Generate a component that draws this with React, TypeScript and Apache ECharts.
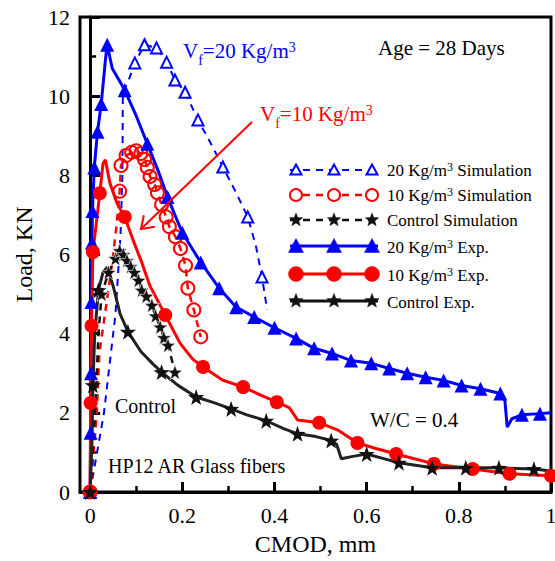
import React, { useEffect, useRef } from "react";
import * as echarts from "echarts";

const FONT = "'Liberation Serif','Times New Roman',Times,serif";

// [CMOD (mm), Load (kN), marker shown 1/0]
const sim20: number[][] = [
  [0, 0, 1], [0.03, 2.0, 0], [0.055, 4.5, 0], [0.066, 6.5, 0], [0.07, 8.0, 0], [0.071, 10.1, 0],
  [0.086, 10.48, 0], [0.097, 10.84, 1], [0.118, 11.3, 1], [0.144, 11.22, 1], [0.166, 10.86, 1],
  [0.184, 10.41, 1], [0.206, 10.1, 1], [0.234, 9.4, 1], [0.26, 8.85, 0], [0.288, 8.21, 1],
  [0.315, 7.6, 0], [0.342, 6.95, 1], [0.36, 6.2, 0], [0.373, 5.43, 1], [0.384, 4.6, 0],
];
const sim10: number[][] = [
  [0, 0, 1], [0.014, 1.9, 0], [0.02, 3.5, 0], [0.031, 4.4, 0], [0.042, 5.3, 0], [0.05, 6.0, 0],
  [0.058, 6.8, 0], [0.064, 7.6, 1], [0.067, 8.25, 1], [0.078, 8.5, 1], [0.09, 8.58, 1],
  [0.1, 8.62, 1], [0.11, 8.55, 1], [0.118, 8.4, 1], [0.124, 8.2, 1], [0.13, 7.97, 1],
  [0.14, 7.77, 1], [0.146, 7.56, 1], [0.155, 7.26, 1], [0.165, 6.95, 1], [0.172, 6.7, 1],
  [0.185, 6.45, 1], [0.196, 6.15, 1], [0.207, 5.72, 1], [0.212, 5.15, 1], [0.225, 4.6, 1],
  [0.24, 3.92, 1],
];
const simCtrl: number[][] = [
  [0, 0, 1], [0.008, 1.5, 0], [0.013, 2.6, 0], [0.018, 4.0, 0], [0.025, 5.0, 1], [0.04, 5.55, 1],
  [0.055, 5.9, 1], [0.064, 6.1, 1], [0.072, 6.0, 1], [0.08, 5.85, 1], [0.088, 5.7, 1],
  [0.096, 5.55, 1], [0.105, 5.35, 1], [0.112, 5.1, 1], [0.122, 4.95, 1], [0.134, 4.72, 1],
  [0.142, 4.45, 1], [0.152, 4.17, 1], [0.16, 3.9, 1], [0.169, 3.71, 1], [0.178, 3.3, 0],
  [0.184, 3.03, 1],
];
const exp20: number[][] = [
  [0, 0, 1], [0.001, 1.5, 1], [0.002, 3.0, 1], [0.003, 4.8, 1], [0.004, 6.3, 1], [0.005, 7.1, 1],
  [0.009, 8.2, 1], [0.016, 9.1, 1], [0.024, 9.8, 1], [0.033, 10.9, 0], [0.037, 11.3, 1],
  [0.048, 10.7, 0], [0.063, 10.4, 0], [0.075, 10.15, 1], [0.1, 9.5, 0], [0.124, 8.8, 1],
  [0.148, 8.1, 0], [0.168, 7.45, 1], [0.2, 6.55, 1], [0.24, 5.8, 1], [0.28, 5.15, 1],
  [0.317, 4.67, 1], [0.356, 4.42, 1], [0.4, 4.15, 1], [0.447, 3.88, 1], [0.486, 3.63, 1],
  [0.525, 3.5, 1], [0.566, 3.32, 1], [0.61, 3.25, 1], [0.649, 3.12, 1], [0.688, 3.0, 1],
  [0.728, 2.9, 1], [0.767, 2.82, 1], [0.806, 2.69, 1], [0.847, 2.61, 1], [0.89, 2.49, 1],
  [0.9, 2.3, 0], [0.905, 1.64, 0], [0.915, 1.85, 0], [0.937, 1.95, 1], [0.976, 1.98, 1],
  [1.0, 2.0, 0],
];
const exp10: number[][] = [
  [0, 0, 1], [0.001, 2.25, 1], [0.003, 4.2, 1], [0.006, 6.06, 1], [0.021, 7.55, 1],
  [0.028, 8.3, 0], [0.033, 8.39, 0], [0.043, 7.8, 0], [0.058, 7.3, 0], [0.075, 6.95, 1],
  [0.093, 6.37, 0], [0.112, 5.8, 0], [0.13, 5.2, 0], [0.163, 4.47, 1], [0.195, 3.76, 0],
  [0.223, 3.35, 0], [0.245, 3.16, 1], [0.287, 2.83, 0], [0.332, 2.65, 1], [0.37, 2.45, 0],
  [0.405, 2.27, 1], [0.432, 2.13, 0], [0.45, 1.82, 0], [0.497, 1.75, 1], [0.54, 1.55, 0],
  [0.58, 1.24, 1], [0.62, 1.1, 0], [0.664, 0.96, 1], [0.746, 0.71, 1], [0.83, 0.58, 1],
  [0.91, 0.46, 1], [1.0, 0.41, 1],
];
const expCtrl: number[][] = [
  [0, 0, 1], [0.004, 1.3, 0], [0.006, 2.7, 1], [0.01, 4.0, 0], [0.018, 5.1, 1], [0.028, 5.55, 0],
  [0.037, 5.68, 0], [0.05, 5.2, 0], [0.065, 4.5, 0], [0.082, 4.05, 1], [0.11, 3.55, 0],
  [0.135, 3.25, 0], [0.155, 3.03, 1], [0.19, 2.7, 0], [0.23, 2.4, 1], [0.27, 2.25, 0],
  [0.306, 2.1, 1], [0.34, 1.95, 0], [0.382, 1.8, 1], [0.42, 1.6, 0], [0.45, 1.47, 1],
  [0.49, 1.4, 0], [0.523, 1.3, 1], [0.535, 1.2, 0], [0.545, 0.84, 0], [0.57, 0.9, 0],
  [0.6, 0.96, 1], [0.635, 0.85, 0], [0.67, 0.74, 1], [0.742, 0.61, 1], [0.815, 0.61, 1],
  [0.887, 0.61, 1], [0.963, 0.58, 1], [1.0, 0.53, 0],
];

const xMajor = [0, 0.2, 0.4, 0.6, 0.8, 1];
const xMinor = [0.1, 0.3, 0.5, 0.7, 0.9];

const BLUE = "#0000ff";
const RED = "#ff0000";
const BLACK = "#111111";
const STAR =
  "path://M0,-10 L2.35,-3.24 L9.51,-3.09 L3.8,1.24 L5.88,8.09 L0,4 L-5.88,8.09 L-3.8,1.24 L-9.51,-3.09 L-2.35,-3.24 Z";

function pts(d: number[][]) {
  return d.map(([x, y, m]) => (m ? [x, y] : { value: [x, y], symbol: "none" }));
}

function starPts(cx: number, cy: number, R: number) {
  const r = R * 0.42;
  const out: number[][] = [];
  for (let i = 0; i < 10; i++) {
    const a = (-90 + i * 36) * (Math.PI / 180);
    const rr = i % 2 === 0 ? R : r;
    out.push([cx + rr * Math.cos(a), cy + rr * Math.sin(a)]);
  }
  return out;
}

function legendRow(y: number, kind: string, color: string, dashed: boolean, hollow: boolean, size: number, lw: number) {
  const xs = [296, 334, 372];
  const els: any[] = [
    {
      type: "line",
      z: 45,
      shape: { x1: 290, y1: y, x2: 378, y2: y },
      style: { stroke: color, lineWidth: lw, lineDash: dashed ? [7, 6] : null },
    },
  ];
  xs.forEach((cx) => {
    const st = hollow
      ? { fill: "#fff", stroke: color, lineWidth: 2 }
      : { fill: color, stroke: color, lineWidth: 0.5 };
    if (kind === "tri") {
      els.push({
        type: "polygon",
        z: 46,
        shape: { points: [[cx, y - size / 2], [cx + size / 2, y + size / 2 - 1], [cx - size / 2, y + size / 2 - 1]] },
        style: st,
      });
    } else if (kind === "circ") {
      els.push({ type: "circle", z: 46, shape: { cx, cy: y, r: size / 2 }, style: st });
    } else {
      els.push({ type: "polygon", z: 46, shape: { points: starPts(cx, y, size / 2) }, style: st });
    }
  });
  return els;
}

function txt(x: number, y: number, text: string, color: string, size: number, rich?: any) {
  return {
    type: "text",
    x,
    y,
    z: 50,
    style: {
      text,
      fill: color,
      font: `${size}px ${FONT}`,
      align: "left",
      verticalAlign: "middle",
      rich,
    },
  };
}

function supRich(color: string, size: number, subSize: number, supPad: number, subPad: number) {
  return {
    n: { fontSize: size, fontFamily: FONT, fill: color },
    sub: { fontSize: subSize, fontFamily: FONT, fill: color, padding: [subPad, 0, 0, 0] },
    sup: { fontSize: subSize, fontFamily: FONT, fill: color, padding: [0, 0, supPad, 0] },
  };
}

export default function App() {
  const ref = useRef<HTMLDivElement>(null);
  useEffect(() => {
    if (!ref.current) return;
    const chart = echarts.init(ref.current, undefined, { renderer: "svg" });
    const axisFont = { fontFamily: FONT, color: "#000" };

    const series: any[] = [
      {
        name: "20 Sim",
        type: "line",
        data: pts(sim20),
        symbol: "triangle",
        symbolSize: 11,
        showAllSymbol: true,
        lineStyle: { color: BLUE, width: 2, type: [7, 6] },
        itemStyle: { color: "#fff", borderColor: BLUE, borderWidth: 2 },
      },
      {
        name: "10 Sim",
        type: "line",
        data: pts(sim10),
        symbol: "circle",
        symbolSize: 13,
        showAllSymbol: true,
        lineStyle: { color: RED, width: 2.5, type: [7, 6] },
        itemStyle: { color: "rgba(255,255,255,0)", borderColor: RED, borderWidth: 2 },
      },
      {
        name: "Ctrl Sim",
        type: "line",
        data: pts(simCtrl),
        symbol: STAR,
        symbolSize: 15,
        showAllSymbol: true,
        lineStyle: { color: BLACK, width: 2.5, type: [7, 6] },
        itemStyle: { color: BLACK, borderColor: "#fff", borderWidth: 0.6 },
      },
      {
        name: "20 Exp",
        type: "line",
        data: pts(exp20),
        symbol: "triangle",
        symbolSize: 14,
        showAllSymbol: true,
        lineStyle: { color: BLUE, width: 3 },
        itemStyle: { color: BLUE },
      },
      {
        name: "10 Exp",
        type: "line",
        data: pts(exp10),
        symbol: "circle",
        symbolSize: 14,
        showAllSymbol: true,
        lineStyle: { color: RED, width: 3 },
        itemStyle: { color: RED },
      },
      {
        name: "Ctrl Exp",
        type: "line",
        data: pts(expCtrl),
        symbol: STAR,
        symbolSize: 16,
        showAllSymbol: true,
        lineStyle: { color: "#222", width: 3 },
        itemStyle: { color: BLACK },
      },
    ];

    // arrow geometry (annotation)
    const tip = [141, 229];
    const tail = [252, 122];
    const ang = Math.atan2(tail[1] - tip[1], tail[0] - tip[0]);
    const hl = 14;
    const h1 = [tip[0] + hl * Math.cos(ang + 0.6), tip[1] + hl * Math.sin(ang + 0.6)];
    const h2 = [tip[0] + hl * Math.cos(ang - 0.6), tip[1] + hl * Math.sin(ang - 0.6)];

    const graphic: any[] = [
      { type: "line", z: 40, shape: { x1: tail[0], y1: tail[1], x2: tip[0], y2: tip[1] }, style: { stroke: RED, lineWidth: 2 } },
      { type: "polyline", z: 40, shape: { points: [h1, tip, h2] }, style: { stroke: RED, lineWidth: 2, fill: null } },
      txt(183, 51, "{n|V}{sub|f}{n|=20 Kg/m}{sup|3}", BLUE, 21, supRich(BLUE, 21, 14, 8, 18)),
      txt(260, 114, "{n|V}{sub|f}{n|=10 Kg/m}{sup|3}", RED, 21, supRich(RED, 21, 14, 8, 18)),
      txt(378, 48, "Age = 28 Days", "#000", 21),
      txt(370, 420, "W/C = 0.4", "#000", 21),
      txt(115, 406, "Control", "#000", 20),
      txt(108, 466, "HP12 AR Glass fibers", "#000", 20),
      ...legendRow(170, "tri", BLUE, true, true, 11, 2),
      ...legendRow(195, "circ", RED, true, true, 12, 2.5),
      ...legendRow(220, "star", BLACK, true, false, 14, 2.5),
      ...legendRow(246, "tri", BLUE, false, false, 15, 3),
      ...legendRow(274, "circ", RED, false, false, 15, 3),
      ...legendRow(301, "star", BLACK, false, false, 15, 3),
      txt(387, 170, "{n|20 Kg/m}{sup|3}{n| Simulation}", "#000", 17, supRich("#000", 17, 12, 6, 0)),
      txt(387, 195, "{n|10 Kg/m}{sup|3}{n| Simulation}", "#000", 17, supRich("#000", 17, 12, 6, 0)),
      txt(387, 220, "Control Simulation", "#000", 17),
      txt(387, 247, "{n|20 Kg/m}{sup|3}{n| Exp.}", "#000", 17, supRich("#000", 17, 12, 6, 0)),
      txt(387, 275, "{n|10 Kg/m}{sup|3}{n| Exp.}", "#000", 17, supRich("#000", 17, 12, 6, 0)),
      txt(387, 302, "Control Exp.", "#000", 17),
    ];

    chart.setOption({
      animation: false,
      backgroundColor: "#fff",
      grid: {
        left: 80, right: 4, top: 17, bottom: 69,
        outerBoundsMode: "none",
        containLabel: false,
        show: true, borderColor: "#000", borderWidth: 3,
      },
      xAxis: [
        {
          type: "value",
          min: -0.022,
          max: 1,
          position: "bottom",
          axisLine: { show: true, lineStyle: { color: "#000", width: 3 } },
          axisTick: { show: true, inside: true, length: 10, lineStyle: { color: "#000", width: 3 }, customValues: xMajor },
          axisLabel: { customValues: xMajor, formatter: (v: number) => String(v), fontSize: 22, margin: 12, ...axisFont },
          splitLine: { show: false },
          name: "CMOD, mm",
          nameLocation: "middle",
          nameGap: 40,
          nameTextStyle: { fontSize: 24, ...axisFont },
        },
        {
          type: "value",
          min: -0.022,
          max: 1,
          position: "bottom",
          axisLine: { show: false },
          axisTick: { show: true, inside: true, length: 6, lineStyle: { color: "#000", width: 2.5 }, customValues: xMinor },
          axisLabel: { show: false },
          splitLine: { show: false },
        },
      ],
      yAxis: {
        type: "value",
        min: 0,
        max: 12,
        interval: 2,
        axisLine: { show: true, lineStyle: { color: "#000", width: 3 } },
        axisTick: { show: true, inside: true, length: 10, lineStyle: { color: "#000", width: 3 } },
        minorTick: { show: true, splitNumber: 2, length: 6, lineStyle: { color: "#000", width: 2.5 } },
        axisLabel: { fontSize: 22, margin: 10, ...axisFont },
        splitLine: { show: false },
        minorSplitLine: { show: false },
        name: "Load, KN",
        nameLocation: "middle",
        nameGap: 44,
        nameTextStyle: { fontSize: 24, ...axisFont },
      },
      series,
      graphic,
    });
    return () => chart.dispose();
  }, []);
  return <div ref={ref} style={{ position: "fixed", left: 0, top: 0, width: 555, height: 561, background: "#fff" }} />;
}
